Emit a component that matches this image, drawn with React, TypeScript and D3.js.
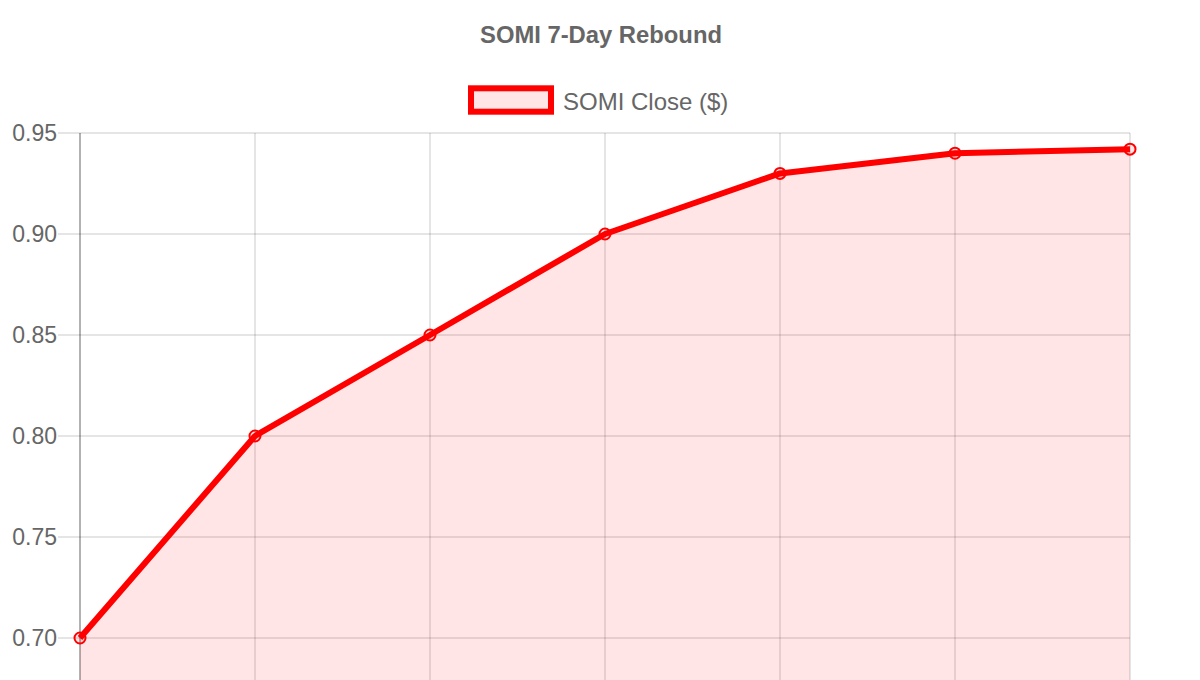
import React from "react";
import * as d3 from "d3";

const title = "SOMI 7-Day Rebound";
const seriesName = "SOMI Close ($)";
const categories = ["Day 1", "Day 2", "Day 3", "Day 4", "Day 5", "Day 6", "Day 7"];
const closes = [0.70, 0.80, 0.85, 0.90, 0.93, 0.94, 0.942];
const yTicks = [0.70, 0.75, 0.80, 0.85, 0.90, 0.95];

const W = 1200;
const H = 680;
const left = 80;
const right = 1130;
const top = 133;
const plotBottom = 760;
const FONT = "'Liberation Sans', Arial, Helvetica, sans-serif";
const RED = "rgb(255,0,0)";
const FILL = "rgba(255,0,0,0.1)";
const GRID = "rgba(0,0,0,0.1)";

export default function App() {
  const x = d3.scalePoint<string>().domain(categories).range([left, right]);
  const y = d3.scaleLinear().domain([0.70, 0.95]).range([638, top]);

  const pts = categories.map((c, i) => [x(c) as number, y(closes[i])] as [number, number]);
  const line = d3.line<[number, number]>().x((d) => d[0]).y((d) => d[1]);
  const area = d3
    .area<[number, number]>()
    .x((d) => d[0])
    .y0(plotBottom)
    .y1((d) => d[1]);

  return (
    <svg
      width={W}
      height={H}
      viewBox={`0 0 ${W} ${H}`}
      style={{ position: "absolute", left: 0, top: 0, background: "#fff" }}
    >
      <text
        x={601}
        y={34}
        textAnchor="middle"
        dominantBaseline="central"
        fontFamily={FONT}
        fontWeight="bold"
        fontSize={23.8}
        fill="#666"
      >
        {title}
      </text>
      {/* legend */}
      <rect x={471} y={88.3} width={80} height={23.4} fill={FILL} stroke={RED} strokeWidth={6} />
      <text
        x={563}
        y={101}
        dominantBaseline="central"
        fontFamily={FONT}
        fontSize={24}
        fill="#666"
      >
        {seriesName}
      </text>
      {/* grid */}
      {categories.map((c, i) =>
        i === 0 ? null : (
          <line key={c} x1={x(c)} x2={x(c)} y1={top} y2={plotBottom} stroke={GRID} strokeWidth={2} />
        )
      )}
      {yTicks.map((t) => (
        <g key={t}>
          <line x1={58} x2={right} y1={y(t)} y2={y(t)} stroke={GRID} strokeWidth={2} />
          <text
            x={57}
            y={y(t)}
            textAnchor="end"
            dominantBaseline="central"
            fontFamily={FONT}
            fontSize={23}
            fill="#666"
          >
            {t.toFixed(2)}
          </text>
        </g>
      ))}
      <line x1={left} x2={left} y1={top} y2={plotBottom} stroke="rgba(0,0,0,0.3)" strokeWidth={2} />
      {/* series */}
      <path d={area(pts) || ""} fill={FILL} stroke="none" />
      <path d={line(pts) || ""} fill="none" stroke={RED} strokeWidth={6} strokeLinejoin="round" />
      {pts.map((p, i) => (
        <circle key={i} cx={p[0]} cy={p[1]} r={5.5} fill={FILL} stroke={RED} strokeWidth={2} />
      ))}
    </svg>
  );
}
